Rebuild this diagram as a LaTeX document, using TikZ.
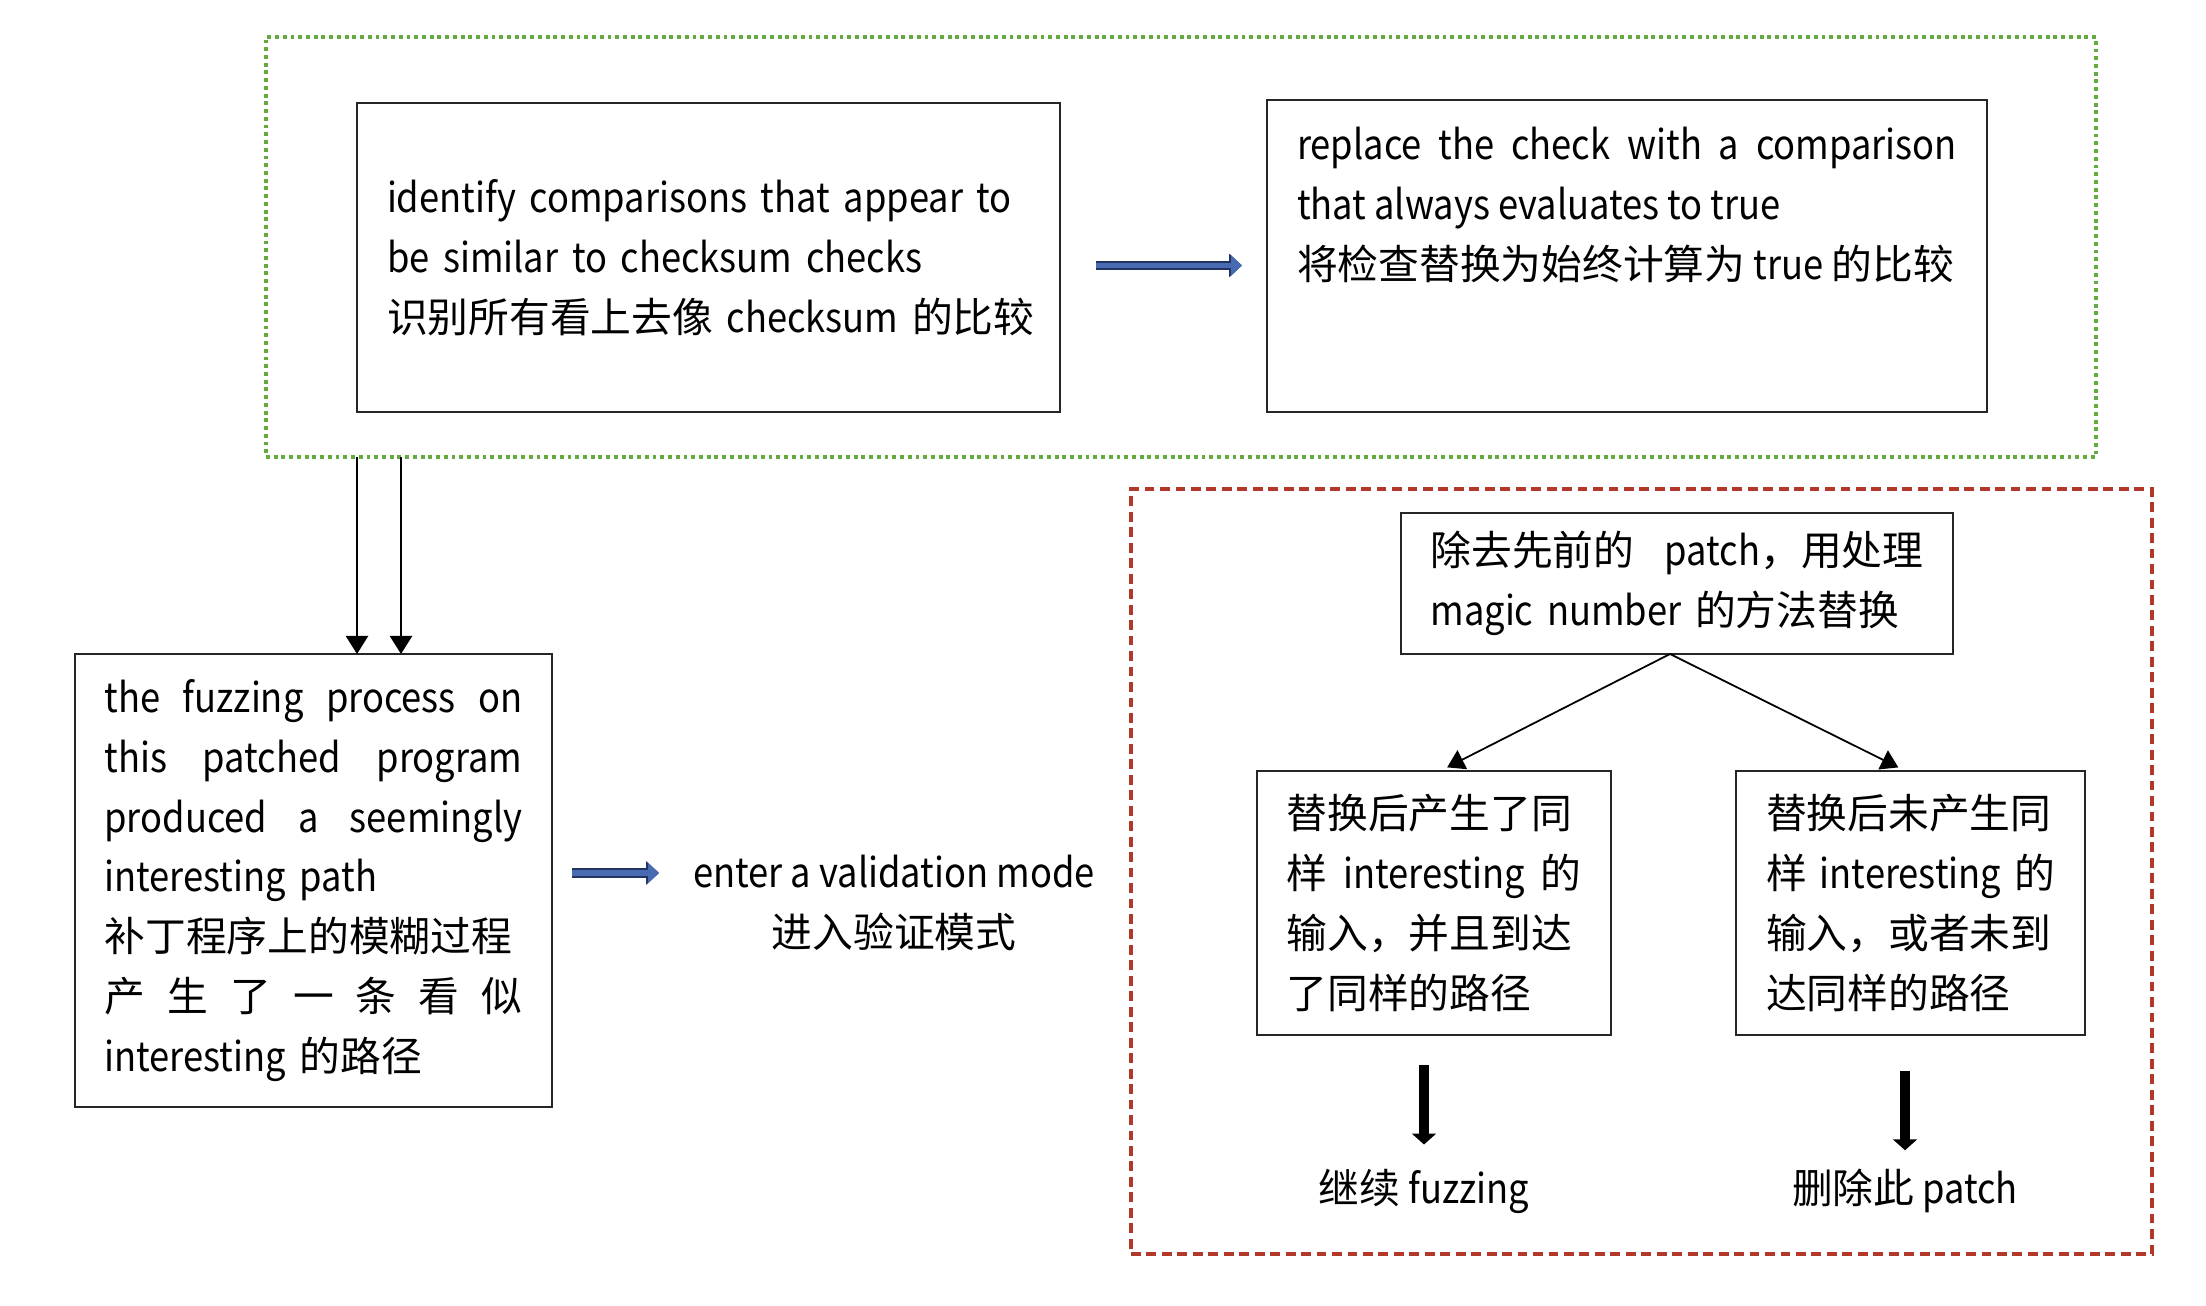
\documentclass[tikz,border=0pt]{standalone}
\usepackage{fontspec}
\setmainfont{Noto Sans CJK SC}[FakeStretch=0.89]
\newfontfamily\zhfont{Noto Sans CJK SC}
\usepackage{xcolor}
\usetikzlibrary{arrows.meta,positioning}
\definecolor{dotgreen}{RGB}{100,170,64}
\definecolor{dashred}{RGB}{178,56,42}
\definecolor{arrblue}{RGB}{72,106,178}
\definecolor{arrnavy}{RGB}{36,52,96}
\newcommand{\zh}[1]{{\zhfont #1}}
\newcommand{\jl}[2]{\makebox[#1][s]{\spaceskip=0.2em plus 1fil\relax #2}}
\begin{document}
\begin{tikzpicture}[card/.style={draw=black!85,line width=0.6pt,shape=rectangle,inner ysep=0pt,outer sep=0pt,align=left,font=\fontsize{11.6pt}{17pt}\selectfont},
lbl/.style={inner sep=1pt,align=center,font=\fontsize{11.6pt}{17pt}\selectfont},
blk/.style={line width=0.7pt,-{Triangle[width=0.22cm,length=0.18cm]}},
thk/.style={line width=2.8pt,-{Triangle[width=0.24cm,length=0.11cm]}},
fork/.style={line width=0.5pt,-{Triangle[width=0.21cm,length=0.17cm]}},
bluearr/.style={draw=arrblue,line width=1.6pt,-{Triangle[width=0.2cm,length=0.11cm]},preaction={draw=arrnavy,line width=2.6pt,-{Triangle[width=0.23cm,length=0.13cm]}}}]
\useasboundingbox (0,0) rectangle (22.06,-13.06);
% groups
\node[draw=dotgreen,line width=1.1pt,dash pattern=on 1.1pt off 1.1pt,minimum width=18.30cm,minimum height=4.20cm,outer sep=0pt] (grp1) at (11.81,-2.47) {};
\node[draw=dashred,line width=1.1pt,dash pattern=on 2.8pt off 1.6pt,minimum width=10.21cm,minimum height=7.65cm,outer sep=0pt] (grp2) at (16.415,-8.715) {};
% boxes
\node[card,minimum width=7.03cm,minimum height=3.09cm,text width=6.43cm,inner xsep=0.30cm] (ident) at (7.085,-2.575) {identify comparisons that appear to\\be similar to checksum checks\\\mbox{\zh{识别所有看上去像} checksum \zh{的比较}}};
\node[card,minimum width=7.20cm,minimum height=3.12cm,inner xsep=0.30cm] (repl) at (16.27,-2.56) {\parbox[c][3.12cm][t]{6.60cm}{\rule{0pt}{0.60cm}\jl{6.60cm}{replace the check with a comparison}\\that always evaluates to true\\\zh{将检查替换为始终计算为} true \zh{的比较}}};
\node[card,minimum width=4.77cm,minimum height=4.53cm,text width=4.18cm,inner xsep=0.295cm] (fuzz) at (3.135,-8.805) {\jl{4.18cm}{the fuzzing process on}\\\jl{4.18cm}{this patched program}\\\jl{4.18cm}{produced a seemingly}\\interesting path\\\zh{补丁程序上的模糊过程}\\\jl{4.18cm}{\zh{产 生 了 一 条 看 似}}\\interesting \zh{的路径}};
\node[lbl] (valid) at (8.94,-9.03) {enter a validation mode\\\zh{进入验证模式}};
\node[card,minimum width=5.52cm,minimum height=1.41cm,text width=4.93cm,inner xsep=0.295cm] (remove) at (16.77,-5.835) {\jl{4.93cm}{\zh{除去先前的} patch\zh{，用处理}}\\magic number \zh{的方法替换}};
\node[card,minimum width=3.54cm,minimum height=2.64cm,text width=2.95cm,inner xsep=0.295cm] (same) at (14.34,-9.03) {\zh{替换后产生了同}\\\jl{2.95cm}{\zh{样} interesting \zh{的}}\\\zh{输入，并且到达}\\\zh{了同样的路径}};
\node[card,minimum width=3.49cm,minimum height=2.64cm,text width=2.89cm,inner xsep=0.30cm] (diff) at (19.105,-9.03) {\zh{替换后未产生同}\\\jl{2.89cm}{\zh{样} interesting \zh{的}}\\\zh{输入，或者未到}\\\zh{达同样的路径}};
\node[lbl,anchor=base] (cont) at (14.24,-12.03) {\zh{继续} fuzzing};
\node[lbl,anchor=base] (drop) at (19.05,-12.03) {\zh{删除此} patch};
% connectors
\coordinate (a1) at (3.57,-4.57);
\coordinate (a2) at (4.01,-4.57);
\draw[blk] (a1) -- (a1 |- fuzz.north);
\draw[blk] (a2) -- (a2 |- fuzz.north);
\draw[bluearr,shorten <=0.36cm,shorten >=0.25cm] ([yshift=-0.8mm]ident.east) -- ([yshift=-0.8mm]ident.east -| repl.west);
\draw[bluearr,shorten <=0.2cm,shorten >=0.3cm] ([yshift=0.75mm]fuzz.east) -- ([yshift=0.75mm]fuzz.east -| valid.west);
\draw[fork,shorten >=0.08cm] ([xshift=-0.07cm]remove.south) -- ([xshift=0.06cm]same.north);
\draw[fork,shorten >=0.08cm] ([xshift=-0.07cm]remove.south) -- ([xshift=-0.05cm]diff.north);
\draw[thk,shorten <=0.3cm,shorten >=0.2cm] (cont.north |- same.south) -- (cont.north);
\draw[thk,shorten <=0.36cm,shorten >=0.14cm] (drop.north |- diff.south) -- (drop.north);
\end{tikzpicture}
\end{document}
